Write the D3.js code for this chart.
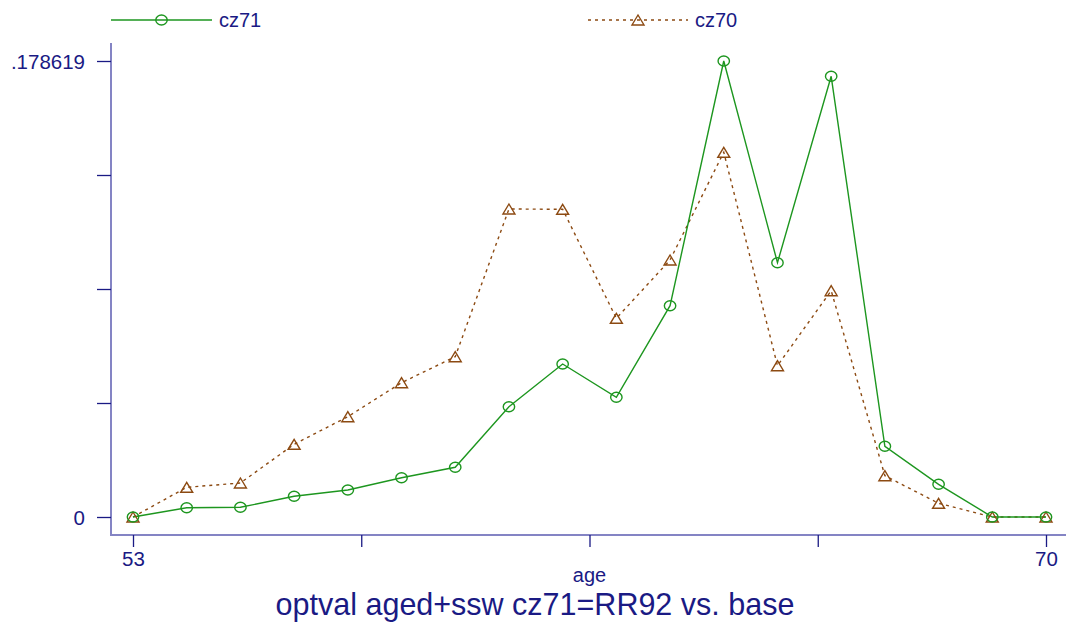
<!DOCTYPE html>
<html>
<head>
<meta charset="utf-8">
<title>optval aged+ssw cz71=RR92 vs. base</title>
<script src="https://cdn.jsdelivr.net/npm/d3@7"></script>
<style>
  html, body { margin: 0; padding: 0; background: #fff; }
  svg { display: block; font-family: Arial, "Liberation Sans", Helvetica, sans-serif; }
</style>
</head>
<body>
<svg id="chart" width="1066" height="623"></svg>
<script>
// Ages on the horizontal axis
const ages = [53, 54, 55, 56, 57, 58, 59, 60, 61, 62, 63, 64, 65, 66, 67, 68, 69, 70];

// Option value by age, reform scenario (cz71) and base (cz70)
const cz71 = [0, 0.00364, 0.00380, 0.00811, 0.01058, 0.01539, 0.01947, 0.04321, 0.05993,
              0.04689, 0.08277, 0.178619, 0.09961, 0.17263, 0.02769, 0.01281, 0, 0];
const cz70 = [0, 0.01163, 0.01332, 0.02848, 0.03929, 0.05261, 0.06279, 0.12065, 0.12053,
              0.07783, 0.10067, 0.14286, 0.05927, 0.08864, 0.01618, 0.00537, 0, 0];

// Axis ticks: quarters of each range, only the ends labelled
const yMax = 0.178619;
const yTicks = [0, yMax / 4, yMax / 2, 3 * yMax / 4, yMax];
const yTickLabels = ["0", "", "", "", ".178619"];
const xTicks = [53, 57.25, 61.5, 65.75, 70];
const xTickLabels = ["53", "", "", "", "70"];

const seriesNames = ["cz71", "cz70"];
const titleText = "optval aged+ssw cz71=RR92 vs. base";
const xTitle = "age";

const textColor = "#1a1a84";
const axisColor = "#8484c4";
const tickColor = "#1a1a84";
const green = "#1d961f";
const brown = "#8c4a12";

const svg = d3.select("#chart");

const x = d3.scaleLinear().domain([53, 70]).range([133, 1046]);
const y = d3.scaleLinear().domain([0, yMax]).range([517, 61]);

const axisX = 111, axisY = 535;

// Axis lines
svg.append("line")
  .attr("x1", axisX).attr("x2", axisX).attr("y1", 43).attr("y2", axisY + 1)
  .attr("stroke", axisColor).attr("stroke-width", 2);
svg.append("line")
  .attr("x1", axisX - 1).attr("x2", 1066).attr("y1", axisY).attr("y2", axisY)
  .attr("stroke", axisColor).attr("stroke-width", 2);

// Y axis ticks and labels
const yAxis = d3.axisLeft(y)
  .tickValues(yTicks)
  .tickSize(14)
  .tickPadding(12)
  .tickFormat((d, i) => yTickLabels[i]);
const gy = svg.append("g").attr("transform", `translate(${axisX},0)`).call(yAxis);
gy.select(".domain").remove();
gy.selectAll(".tick line").attr("stroke", tickColor).attr("stroke-width", 1.3);
gy.selectAll(".tick text")
  .attr("fill", textColor).style("font-size", "20.5px")
  .attr("dy", "0.35em");

// X axis ticks and labels
const xAxis = d3.axisBottom(x)
  .tickValues(xTicks)
  .tickSize(12)
  .tickPadding(4)
  .tickFormat((d, i) => xTickLabels[i]);
const gx = svg.append("g").attr("transform", `translate(0,${axisY})`).call(xAxis);
gx.select(".domain").remove();
gx.selectAll(".tick line").attr("stroke", tickColor).attr("stroke-width", 1.3);
gx.selectAll(".tick text")
  .attr("fill", textColor).style("font-size", "20.5px");

// Axis title and chart title
svg.append("text")
  .attr("x", (x(53) + x(70)) / 2).attr("y", 582)
  .attr("text-anchor", "middle").attr("fill", textColor)
  .style("font-size", "20px").text(xTitle);
svg.append("text")
  .attr("x", 535).attr("y", 615)
  .attr("text-anchor", "middle").attr("fill", textColor)
  .style("font-size", "30.5px").text(titleText);

// Marker shapes
const trianglePath = "M0,-5L6,5L-6,5Z";
function drawCircle(sel) {
  sel.append("ellipse")
    .attr("rx", 5.7).attr("ry", 5)
    .attr("fill", "none").attr("stroke", green).attr("stroke-width", 1.4);
}
function drawTriangle(sel) {
  sel.append("path").attr("d", trianglePath)
    .attr("fill", "none").attr("stroke", brown).attr("stroke-width", 1.4);
}

const line = d3.line().x(d => x(d[0])).y(d => y(d[1]));
const data71 = ages.map((a, i) => [a, cz71[i]]);
const data70 = ages.map((a, i) => [a, cz70[i]]);

// Base series: dotted brown with triangles
svg.append("path").datum(data70)
  .attr("d", line).attr("fill", "none")
  .attr("stroke", brown).attr("stroke-width", 1.4)
  .attr("stroke-dasharray", "3,4");

// Reform series: solid green with circles
svg.append("path").datum(data71)
  .attr("d", line).attr("fill", "none")
  .attr("stroke", green).attr("stroke-width", 1.4);

svg.append("g").selectAll("g").data(data70).join("g")
  .attr("transform", d => `translate(${x(d[0])},${y(d[1])})`)
  .call(drawTriangle);

svg.append("g").selectAll("g").data(data71).join("g")
  .attr("transform", d => `translate(${x(d[0])},${y(d[1])})`)
  .call(drawCircle);

// Legend
const legend = [
  { name: seriesNames[0], x0: 111, x1: 212, color: green, dash: null, marker: drawCircle },
  { name: seriesNames[1], x0: 588, x1: 688, color: brown, dash: "3,4", marker: drawTriangle }
];
const legY = 20;
legend.forEach(item => {
  const g = svg.append("g");
  g.append("line")
    .attr("x1", item.x0).attr("x2", item.x1).attr("y1", legY).attr("y2", legY)
    .attr("stroke", item.color).attr("stroke-width", 1.4)
    .attr("stroke-dasharray", item.dash);
  const m = g.append("g").attr("transform", `translate(${(item.x0 + item.x1) / 2},${legY})`);
  item.marker(m);
  g.append("text")
    .attr("x", item.x1 + 7).attr("y", legY + 6.5)
    .attr("fill", textColor).style("font-size", "20px")
    .text(item.name);
});
</script>
</body>
</html>
